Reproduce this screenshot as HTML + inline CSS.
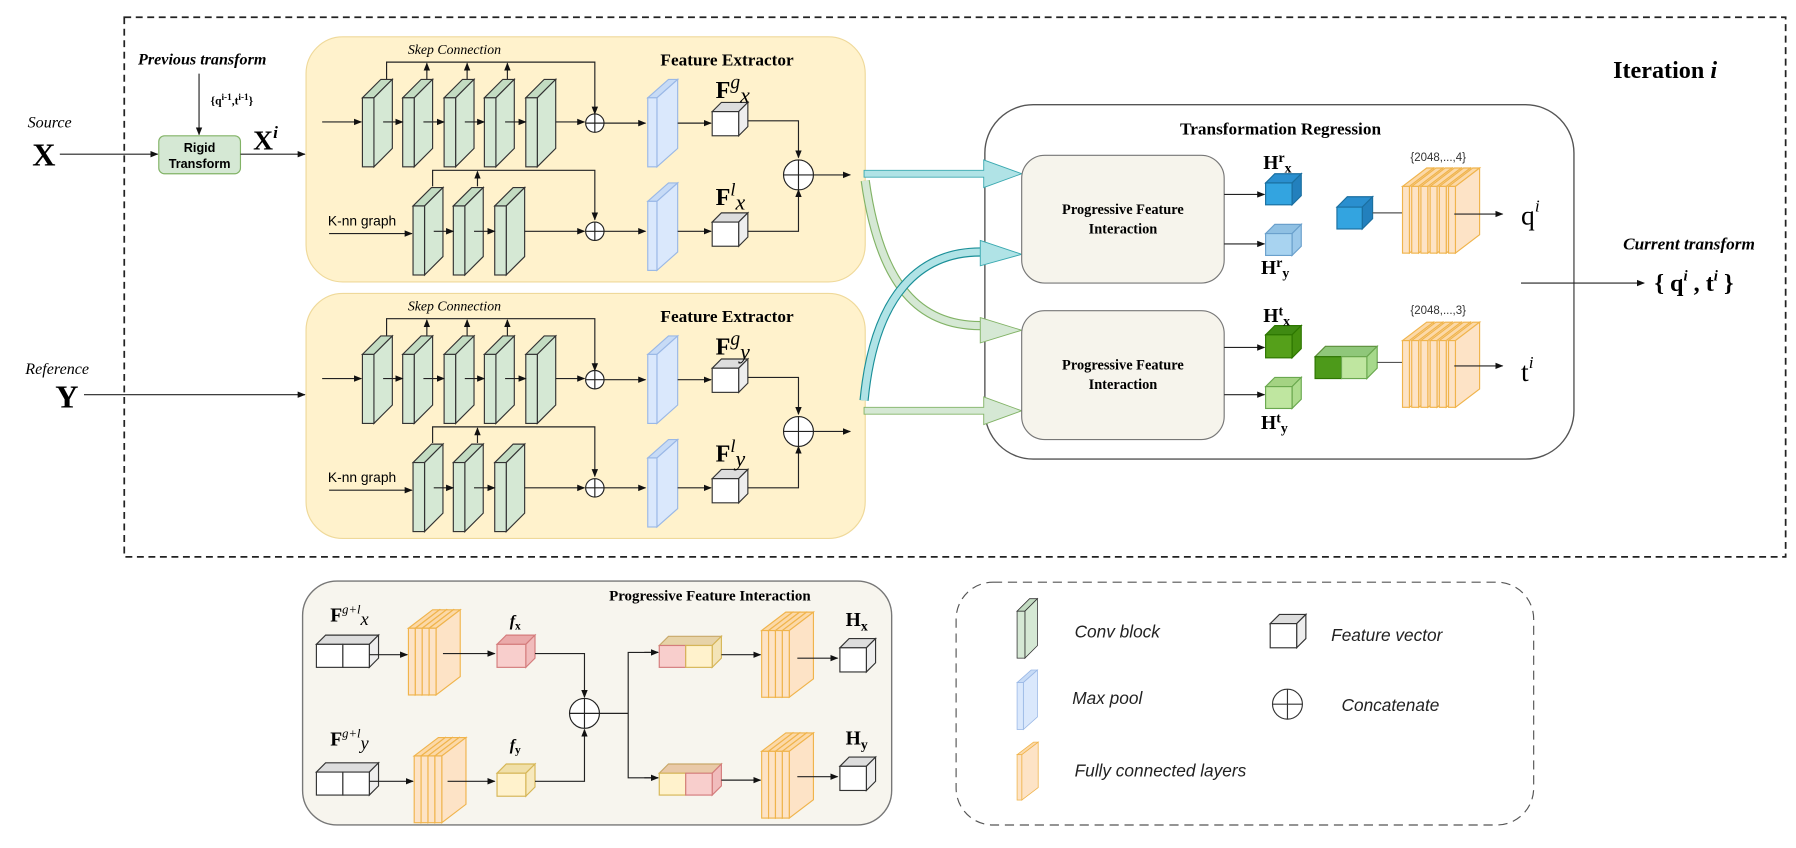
<!DOCTYPE html>
<html><head><meta charset="utf-8"><style>
html,body{margin:0;padding:0;background:#fff;}
svg{display:block;}
.s{font-family:"Liberation Serif",serif;}
.a{font-family:"Liberation Sans",sans-serif;}
</style></head><body>
<svg width="1796" height="848" viewBox="0 0 1561 737" preserveAspectRatio="none" xmlns="http://www.w3.org/2000/svg">
<defs>
<marker id="ar" viewBox="0 0 10 10" refX="9" refY="5" markerWidth="7" markerHeight="7" markerUnits="userSpaceOnUse" orient="auto"><path d="M0,1 L10,5 L0,9 z" fill="#111"/></marker>
<g id="conv"><polygon points="0,15 16,-1 26,-1 10,15" fill="#c3dcc2" stroke="#333" stroke-width="1"/><polygon points="10,15 26,-1 26,59 10,75" fill="#d5e8d4" stroke="#333" stroke-width="1"/><rect x="0" y="15" width="10" height="60" fill="#d5e8d4" stroke="#333" stroke-width="1"/></g>
<g id="pool"><polygon points="0,15 18,-1 26,-1 8,15" fill="#c7dbf6" stroke="#9ab8e6" stroke-width="1"/><polygon points="8,15 26,-1 26,59 8,75" fill="#dae8fc" stroke="#9ab8e6" stroke-width="1"/><rect x="0" y="15" width="8" height="60" fill="#dae8fc" stroke="#9ab8e6" stroke-width="1"/></g>
<g id="wc"><polygon points="0,8 8,0 31,0 23,8" fill="#ddd" stroke="#333"/><polygon points="23,8 31,0 31,21 23,29" fill="#eee" stroke="#333"/><rect x="0" y="8" width="23" height="21" fill="#fff" stroke="#333"/></g>
<g id="fcl"><polygon points="0,16 21,0 27,0 6,16" fill="#fcd9a8" stroke="#f0b44c"/><polygon points="6,16 27,0 27,58 6,74" fill="#fde3c6" stroke="#f0b44c"/><rect x="0" y="16" width="6" height="58" fill="#fde3c6" stroke="#f0b44c"/></g>
</defs>

<rect x="108" y="15" width="1444" height="469" fill="none" stroke="#222" stroke-width="1.5" stroke-dasharray="6,4"/>
<text x="1402" y="68" class="s" font-size="21" font-weight="bold">Iteration <tspan font-style="italic">i</tspan></text>

<text x="24" y="111" class="s" font-size="14" font-style="italic">Source</text>
<text x="28" y="144" class="s" font-size="28" font-weight="bold">X</text>
<line x1="52" y1="134" x2="137" y2="134" stroke="#222" marker-end="url(#ar)"/>
<text x="120" y="56" class="s" font-size="14" font-weight="bold" font-style="italic">Previous transform</text>
<line x1="173" y1="64" x2="173" y2="117" stroke="#222" marker-end="url(#ar)"/>
<text x="183" y="91" class="s" font-size="10" font-weight="bold">{q<tspan font-size="8" dy="-4">i-1</tspan><tspan dy="4">,t</tspan><tspan font-size="8" dy="-4">i-1</tspan><tspan dy="4">}</tspan></text>
<rect x="138" y="118" width="71" height="33" rx="5" fill="#d5e8d4" stroke="#82b366"/>
<text x="173.5" y="132" class="a" font-size="11" font-weight="bold" text-anchor="middle">Rigid</text>
<text x="173.5" y="146" class="a" font-size="11" font-weight="bold" text-anchor="middle">Transform</text>
<line x1="209" y1="134" x2="265" y2="134" stroke="#222" marker-end="url(#ar)"/>
<text x="220" y="130" class="s" font-size="24" font-weight="bold">X<tspan font-size="15" dy="-10" font-style="italic">i</tspan></text>

<text x="22" y="325" class="s" font-size="14" font-style="italic">Reference</text>
<text x="48" y="354" class="s" font-size="28" font-weight="bold">Y</text>
<line x1="73" y1="343" x2="265" y2="343" stroke="#222" marker-end="url(#ar)"/>

<g>
<rect x="266" y="32" width="486" height="213" rx="32" fill="#fff2cc" stroke="#efd99a"/>
<text x="395" y="47" class="s" font-size="12" font-style="italic" text-anchor="middle">Skep Connection</text>
<text x="574" y="57" class="s" font-size="15" font-weight="bold">Feature Extractor</text>
<path d="M336,70 V54 H517 V99" fill="none" stroke="#222" marker-end="url(#ar)"/>
<line x1="371" y1="70" x2="371" y2="55" stroke="#222" marker-end="url(#ar)"/>
<line x1="406" y1="70" x2="406" y2="55" stroke="#222" marker-end="url(#ar)"/>
<line x1="441" y1="70" x2="441" y2="55" stroke="#222" marker-end="url(#ar)"/>
<line x1="280" y1="106" x2="314" y2="106" stroke="#222" marker-end="url(#ar)"/>
<use href="#conv" x="315" y="70"/><use href="#conv" x="350" y="70"/><use href="#conv" x="386" y="70"/><use href="#conv" x="421" y="70"/><use href="#conv" x="457" y="70"/>
<line x1="333" y1="106" x2="350" y2="106" stroke="#222" marker-end="url(#ar)"/>
<line x1="368" y1="106" x2="386" y2="106" stroke="#222" marker-end="url(#ar)"/>
<line x1="404" y1="106" x2="421" y2="106" stroke="#222" marker-end="url(#ar)"/>
<line x1="439" y1="106" x2="457" y2="106" stroke="#222" marker-end="url(#ar)"/>
<line x1="483" y1="106" x2="508" y2="106" stroke="#222" marker-end="url(#ar)"/>
<circle cx="517" cy="107" r="8" fill="#fff" stroke="#222"/><path d="M509,107 H525 M517,99 V115" stroke="#222"/>
<line x1="525" y1="107" x2="561" y2="107" stroke="#222" marker-end="url(#ar)"/>
<use href="#pool" x="563" y="70"/>
<line x1="589" y1="107" x2="618" y2="107" stroke="#222" marker-end="url(#ar)"/>
<use href="#wc" x="619" y="89"/>
<text x="622" y="85" class="s" font-size="21" font-weight="bold">F<tspan font-weight="normal" font-style="italic" font-size="17" dy="-8">g</tspan><tspan font-weight="normal" font-style="italic" font-size="19" dy="12">x</tspan></text>
<path d="M650,105 H694 V137" fill="none" stroke="#222" marker-end="url(#ar)"/>
<path d="M376,162 V148 H517 V191" fill="none" stroke="#222" marker-end="url(#ar)"/>
<line x1="415" y1="162" x2="415" y2="149" stroke="#222" marker-end="url(#ar)"/>
<text x="285" y="196" class="a" font-size="12">K-nn graph</text>
<line x1="286" y1="203" x2="358" y2="203" stroke="#222" marker-end="url(#ar)"/>
<use href="#conv" x="359" y="164"/><use href="#conv" x="394" y="164"/><use href="#conv" x="430" y="164"/>
<line x1="377" y1="201" x2="394" y2="201" stroke="#222" marker-end="url(#ar)"/>
<line x1="412" y1="201" x2="430" y2="201" stroke="#222" marker-end="url(#ar)"/>
<line x1="456" y1="201" x2="508" y2="201" stroke="#222" marker-end="url(#ar)"/>
<circle cx="517" cy="201" r="8" fill="#fff" stroke="#222"/><path d="M509,201 H525 M517,193 V209" stroke="#222"/>
<line x1="525" y1="201" x2="561" y2="201" stroke="#222" marker-end="url(#ar)"/>
<use href="#pool" x="563" y="160"/>
<line x1="589" y1="201" x2="618" y2="201" stroke="#222" marker-end="url(#ar)"/>
<use href="#wc" x="619" y="185"/>
<text x="622" y="178" class="s" font-size="21" font-weight="bold">F<tspan font-weight="normal" font-style="italic" font-size="16" dy="-8">l</tspan><tspan font-weight="normal" font-style="italic" font-size="19" dy="12">x</tspan></text>
<path d="M650,201 H694 V165" fill="none" stroke="#222" marker-end="url(#ar)"/>
<circle cx="694" cy="152" r="13" fill="#fff" stroke="#222"/><path d="M681,152 H707 M694,139 V165" stroke="#222"/>
<line x1="707" y1="152" x2="739" y2="152" stroke="#222" marker-end="url(#ar)"/>
</g>
<g transform="translate(0,223)">
<rect x="266" y="32" width="486" height="213" rx="32" fill="#fff2cc" stroke="#efd99a"/>
<text x="395" y="47" class="s" font-size="12" font-style="italic" text-anchor="middle">Skep Connection</text>
<text x="574" y="57" class="s" font-size="15" font-weight="bold">Feature Extractor</text>
<path d="M336,70 V54 H517 V99" fill="none" stroke="#222" marker-end="url(#ar)"/>
<line x1="371" y1="70" x2="371" y2="55" stroke="#222" marker-end="url(#ar)"/>
<line x1="406" y1="70" x2="406" y2="55" stroke="#222" marker-end="url(#ar)"/>
<line x1="441" y1="70" x2="441" y2="55" stroke="#222" marker-end="url(#ar)"/>
<line x1="280" y1="106" x2="314" y2="106" stroke="#222" marker-end="url(#ar)"/>
<use href="#conv" x="315" y="70"/><use href="#conv" x="350" y="70"/><use href="#conv" x="386" y="70"/><use href="#conv" x="421" y="70"/><use href="#conv" x="457" y="70"/>
<line x1="333" y1="106" x2="350" y2="106" stroke="#222" marker-end="url(#ar)"/>
<line x1="368" y1="106" x2="386" y2="106" stroke="#222" marker-end="url(#ar)"/>
<line x1="404" y1="106" x2="421" y2="106" stroke="#222" marker-end="url(#ar)"/>
<line x1="439" y1="106" x2="457" y2="106" stroke="#222" marker-end="url(#ar)"/>
<line x1="483" y1="106" x2="508" y2="106" stroke="#222" marker-end="url(#ar)"/>
<circle cx="517" cy="107" r="8" fill="#fff" stroke="#222"/><path d="M509,107 H525 M517,99 V115" stroke="#222"/>
<line x1="525" y1="107" x2="561" y2="107" stroke="#222" marker-end="url(#ar)"/>
<use href="#pool" x="563" y="70"/>
<line x1="589" y1="107" x2="618" y2="107" stroke="#222" marker-end="url(#ar)"/>
<use href="#wc" x="619" y="89"/>
<text x="622" y="85" class="s" font-size="21" font-weight="bold">F<tspan font-weight="normal" font-style="italic" font-size="17" dy="-8">g</tspan><tspan font-weight="normal" font-style="italic" font-size="19" dy="12">y</tspan></text>
<path d="M650,105 H694 V137" fill="none" stroke="#222" marker-end="url(#ar)"/>
<path d="M376,162 V148 H517 V191" fill="none" stroke="#222" marker-end="url(#ar)"/>
<line x1="415" y1="162" x2="415" y2="149" stroke="#222" marker-end="url(#ar)"/>
<text x="285" y="196" class="a" font-size="12">K-nn graph</text>
<line x1="286" y1="203" x2="358" y2="203" stroke="#222" marker-end="url(#ar)"/>
<use href="#conv" x="359" y="164"/><use href="#conv" x="394" y="164"/><use href="#conv" x="430" y="164"/>
<line x1="377" y1="201" x2="394" y2="201" stroke="#222" marker-end="url(#ar)"/>
<line x1="412" y1="201" x2="430" y2="201" stroke="#222" marker-end="url(#ar)"/>
<line x1="456" y1="201" x2="508" y2="201" stroke="#222" marker-end="url(#ar)"/>
<circle cx="517" cy="201" r="8" fill="#fff" stroke="#222"/><path d="M509,201 H525 M517,193 V209" stroke="#222"/>
<line x1="525" y1="201" x2="561" y2="201" stroke="#222" marker-end="url(#ar)"/>
<use href="#pool" x="563" y="160"/>
<line x1="589" y1="201" x2="618" y2="201" stroke="#222" marker-end="url(#ar)"/>
<use href="#wc" x="619" y="185"/>
<text x="622" y="178" class="s" font-size="21" font-weight="bold">F<tspan font-weight="normal" font-style="italic" font-size="16" dy="-8">l</tspan><tspan font-weight="normal" font-style="italic" font-size="19" dy="12">y</tspan></text>
<path d="M650,201 H694 V165" fill="none" stroke="#222" marker-end="url(#ar)"/>
<circle cx="694" cy="152" r="13" fill="#fff" stroke="#222"/><path d="M681,152 H707 M694,139 V165" stroke="#222"/>
<line x1="707" y1="152" x2="739" y2="152" stroke="#222" marker-end="url(#ar)"/>
</g>

<rect x="856" y="91" width="512" height="308" rx="42" fill="#fff" stroke="#555" stroke-width="1.2"/>
<text x="1113" y="117" class="s" font-size="15" font-weight="bold" text-anchor="middle">Transformation Regression</text>

<path d="M751,148 H855 V139 L888,151 L855,163 V154 H751 Z" fill="#b0e3e6" stroke="#3aa9b0" stroke-width="0.8"/>
<path d="M752,157 C765,250 800,283 852,283" fill="none" stroke="#82b366" stroke-width="8"/>
<path d="M752,157 C765,250 800,283 852,283" fill="none" stroke="#d5e8d4" stroke-width="6"/>
<polygon points="852,276 888,287 852,298" fill="#d5e8d4" stroke="#82b366" stroke-width="0.8"/>
<path d="M751,348 C760,255 800,219 852,219" fill="none" stroke="#1a8f98" stroke-width="8"/>
<path d="M751,348 C760,255 800,219 852,219" fill="none" stroke="#b0e3e6" stroke-width="6"/>
<polygon points="852,209 888,221 852,231" fill="#b0e3e6" stroke="#3aa9b0" stroke-width="0.8"/>
<path d="M751,354 H855 V345 L888,357 L855,369 V360 H751 Z" fill="#d5e8d4" stroke="#82b366" stroke-width="0.8"/>

<rect x="888" y="135" width="176" height="111" rx="20" fill="#f6f4ec" stroke="#777"/>
<text x="976" y="186" class="s" font-size="12.5" font-weight="bold" text-anchor="middle">Progressive Feature</text>
<text x="976" y="203" class="s" font-size="12.5" font-weight="bold" text-anchor="middle">Interaction</text>
<rect x="888" y="270" width="176" height="112" rx="20" fill="#f6f4ec" stroke="#777"/>
<text x="976" y="321" class="s" font-size="12.5" font-weight="bold" text-anchor="middle">Progressive Feature</text>
<text x="976" y="338" class="s" font-size="12.5" font-weight="bold" text-anchor="middle">Interaction</text>

<line x1="1064" y1="169" x2="1099" y2="169" stroke="#222" marker-end="url(#ar)"/>
<line x1="1064" y1="212" x2="1099" y2="212" stroke="#222" marker-end="url(#ar)"/>
<line x1="1064" y1="302" x2="1099" y2="302" stroke="#222" marker-end="url(#ar)"/>
<line x1="1064" y1="343" x2="1099" y2="343" stroke="#222" marker-end="url(#ar)"/>
<g stroke="#1a6fa0"><polygon points="1100,159 1108,151 1131,151 1123,159" fill="#2a8fcf"/><polygon points="1123,159 1131,151 1131,170 1123,178" fill="#2380bd"/><rect x="1100" y="159" width="23" height="19" fill="#33a4e0"/></g>
<g stroke="#6aa0cc"><polygon points="1100,203 1108,195 1131,195 1123,203" fill="#8fc0e3"/><polygon points="1123,203 1131,195 1131,214 1123,222" fill="#9cc9ea"/><rect x="1100" y="203" width="23" height="19" fill="#a8d3f0"/></g>
<g stroke="#2d7600"><polygon points="1100,291 1108,283 1131,283 1123,291" fill="#3f8a12"/><polygon points="1123,291 1131,283 1131,303 1123,311" fill="#45900f"/><rect x="1100" y="291" width="23" height="20" fill="#55a01a"/></g>
<g stroke="#6aa84f"><polygon points="1100,336 1108,328 1131,328 1123,336" fill="#a4d383"/><polygon points="1123,336 1131,328 1131,347 1123,355" fill="#aedc8e"/><rect x="1100" y="336" width="23" height="19" fill="#bfe6a0"/></g>
<text x="1098" y="147" class="s" font-size="17" font-weight="bold">H<tspan font-size="12" dy="-6">r</tspan><tspan font-size="12" dy="9">x</tspan></text>
<text x="1096" y="238" class="s" font-size="17" font-weight="bold">H<tspan font-size="12" dy="-6">r</tspan><tspan font-size="12" dy="9">y</tspan></text>
<text x="1098" y="280" class="s" font-size="17" font-weight="bold">H<tspan font-size="12" dy="-6">t</tspan><tspan font-size="12" dy="9">x</tspan></text>
<text x="1096" y="373" class="s" font-size="17" font-weight="bold">H<tspan font-size="12" dy="-6">t</tspan><tspan font-size="12" dy="9">y</tspan></text>

<g stroke="#1a6fa0"><polygon points="1162,180 1171,171 1193,171 1184,180" fill="#2a8fcf"/><polygon points="1184,180 1193,171 1193,190 1184,199" fill="#2380bd"/><rect x="1162" y="180" width="22" height="19" fill="#33a4e0"/></g>
<line x1="1193" y1="185" x2="1219" y2="185" stroke="#555"/>
<g transform="translate(1219,146)"><use href="#fcl" x="0"/><use href="#fcl" x="8"/><use href="#fcl" x="16"/><use href="#fcl" x="24"/><use href="#fcl" x="32"/><use href="#fcl" x="40"/></g>
<text x="1250" y="140" class="a" font-size="10" text-anchor="middle" fill="#333">{2048,...,4}</text>
<line x1="1264" y1="186" x2="1306" y2="186" stroke="#222" marker-end="url(#ar)"/>
<text x="1322" y="195" class="s" font-size="24">q<tspan font-size="15" dy="-11" font-style="italic">i</tspan></text>

<g><polygon points="1143,310 1152,301 1197,301 1188,310" fill="#8fc77a" stroke="#5c8d3a"/><polygon points="1188,310 1197,301 1197,320 1188,329" fill="#a6d98b" stroke="#6aa84f"/><rect x="1143" y="310" width="23" height="19" fill="#4d9a1a" stroke="#2d7600"/><rect x="1166" y="310" width="22" height="19" fill="#bfe6a0" stroke="#6aa84f"/></g>
<line x1="1197" y1="315" x2="1219" y2="315" stroke="#555"/>
<g transform="translate(1219,280)"><use href="#fcl" x="0"/><use href="#fcl" x="8"/><use href="#fcl" x="16"/><use href="#fcl" x="24"/><use href="#fcl" x="32"/><use href="#fcl" x="40"/></g>
<text x="1250" y="273" class="a" font-size="10" text-anchor="middle" fill="#333">{2048,...,3}</text>
<line x1="1264" y1="318" x2="1306" y2="318" stroke="#222" marker-end="url(#ar)"/>
<text x="1322" y="331" class="s" font-size="24">t<tspan font-size="15" dy="-11" font-style="italic">i</tspan></text>

<line x1="1322" y1="246" x2="1429" y2="246" stroke="#222" marker-end="url(#ar)"/>
<text x="1468" y="217" class="s" font-size="15" font-weight="bold" font-style="italic" text-anchor="middle">Current transform</text>
<text x="1438" y="253" class="s" font-size="21" font-weight="bold">{ q<tspan font-size="13" dy="-9" font-style="italic">i</tspan><tspan dy="9"> , t</tspan><tspan font-size="13" dy="-9" font-style="italic">i</tspan><tspan dy="9"> }</tspan></text>

<rect x="263" y="505" width="512" height="212" rx="30" fill="#f7f5ee" stroke="#777" stroke-width="1.2"/>
<text x="617" y="522" class="s" font-size="13" font-weight="bold" text-anchor="middle">Progressive Feature Interaction</text>
<text x="287" y="540" class="s" font-size="17" font-weight="bold">F<tspan font-weight="normal" font-style="italic" font-size="11" dy="-7">g+l</tspan><tspan font-weight="normal" font-style="italic" font-size="16" dy="10">x</tspan></text>
<g stroke="#333"><polygon points="275,560 283,552 329,552 321,560" fill="#ddd"/><polygon points="321,560 329,552 329,572 321,580" fill="#eee"/><rect x="275" y="560" width="23" height="20" fill="#fff"/><rect x="298" y="560" width="23" height="20" fill="#fff"/></g>
<line x1="321" y1="569" x2="354" y2="569" stroke="#222" marker-end="url(#ar)"/>
<g transform="translate(355,530)"><use href="#fcl" x="0"/><use href="#fcl" x="6"/><use href="#fcl" x="12"/><use href="#fcl" x="18"/></g>
<line x1="385" y1="568" x2="430" y2="568" stroke="#222" marker-end="url(#ar)"/>
<g><polygon points="432,560 440,552 465,552 457,560" fill="#eaa9a9" stroke="#d47c7c"/><polygon points="457,560 465,552 465,572 457,580" fill="#f1bcbc" stroke="#d47c7c"/><rect x="432" y="560" width="25" height="20" fill="#f8cecc" stroke="#d47c7c"/></g>
<text x="443" y="544" class="s" font-size="14" font-weight="bold" font-style="italic">f<tspan font-size="10" font-style="normal" dy="3">x</tspan></text>
<path d="M465,568 H508 V606" fill="none" stroke="#222" marker-end="url(#ar)"/>
<circle cx="508" cy="620" r="13" fill="#fff" stroke="#222"/><path d="M495,620 H521 M508,607 V633" stroke="#222"/>

<text x="287" y="648" class="s" font-size="17" font-weight="bold">F<tspan font-weight="normal" font-style="italic" font-size="11" dy="-7">g+l</tspan><tspan font-weight="normal" font-style="italic" font-size="16" dy="10">y</tspan></text>
<g stroke="#333"><polygon points="275,671 283,663 329,663 321,671" fill="#ddd"/><polygon points="321,671 329,663 329,683 321,691" fill="#eee"/><rect x="275" y="671" width="23" height="20" fill="#fff"/><rect x="298" y="671" width="23" height="20" fill="#fff"/></g>
<line x1="321" y1="679" x2="359" y2="679" stroke="#222" marker-end="url(#ar)"/>
<g transform="translate(360,641)"><use href="#fcl" x="0"/><use href="#fcl" x="6"/><use href="#fcl" x="12"/><use href="#fcl" x="18"/></g>
<line x1="389" y1="679" x2="430" y2="679" stroke="#222" marker-end="url(#ar)"/>
<g><polygon points="432,672 440,664 465,664 457,672" fill="#f0dfa8" stroke="#d6b656"/><polygon points="457,672 465,664 465,684 457,692" fill="#f7e9bd" stroke="#d6b656"/><rect x="432" y="672" width="25" height="20" fill="#fff2cc" stroke="#d6b656"/></g>
<text x="443" y="652" class="s" font-size="14" font-weight="bold" font-style="italic">f<tspan font-size="10" font-style="normal" dy="3">y</tspan></text>
<path d="M465,679 H508 V634" fill="none" stroke="#222" marker-end="url(#ar)"/>

<path d="M521,620 H546 V567 H572 M546,620 V676 H572" fill="none" stroke="#222"/>
<line x1="560" y1="567" x2="572" y2="567" stroke="#222" marker-end="url(#ar)"/>
<line x1="560" y1="676" x2="572" y2="676" stroke="#222" marker-end="url(#ar)"/>
<g><polygon points="573,561 581,553 627,553 619,561" fill="#e7d3a8" stroke="#c9a96a"/><polygon points="619,561 627,553 627,572 619,580" fill="#f3e4b8" stroke="#d6b656"/><rect x="573" y="561" width="23" height="19" fill="#f8cecc" stroke="#d47c7c"/><rect x="596" y="561" width="23" height="19" fill="#fff2cc" stroke="#d6b656"/></g>
<g><polygon points="573,672 581,664 627,664 619,672" fill="#e9c9a8" stroke="#c9a96a"/><polygon points="619,672 627,664 627,683 619,691" fill="#f1bcbc" stroke="#d47c7c"/><rect x="573" y="672" width="23" height="19" fill="#fff2cc" stroke="#d6b656"/><rect x="596" y="672" width="23" height="19" fill="#f8cecc" stroke="#d47c7c"/></g>
<line x1="627" y1="569" x2="661" y2="569" stroke="#222" marker-end="url(#ar)"/>
<line x1="627" y1="678" x2="661" y2="678" stroke="#222" marker-end="url(#ar)"/>
<g transform="translate(662,532)"><use href="#fcl" x="0"/><use href="#fcl" x="6"/><use href="#fcl" x="12"/><use href="#fcl" x="18"/></g>
<g transform="translate(662,637)"><use href="#fcl" x="0"/><use href="#fcl" x="6"/><use href="#fcl" x="12"/><use href="#fcl" x="18"/></g>
<line x1="693" y1="572" x2="728" y2="572" stroke="#222" marker-end="url(#ar)"/>
<line x1="693" y1="675" x2="728" y2="675" stroke="#222" marker-end="url(#ar)"/>
<use href="#wc" x="730" y="555"/>
<use href="#wc" x="730" y="658"/>
<text x="735" y="544" class="s" font-size="17" font-weight="bold">H<tspan font-size="12" dy="4">x</tspan></text>
<text x="735" y="647" class="s" font-size="17" font-weight="bold">H<tspan font-size="12" dy="4">y</tspan></text>

<rect x="831" y="506" width="502" height="211" rx="32" fill="none" stroke="#555" stroke-dasharray="8,5"/>
<g transform="translate(884,521) scale(0.68)"><use href="#conv"/></g>
<text x="934" y="554" class="a" font-size="15" font-style="italic" fill="#222">Conv block</text>
<g transform="translate(884,583) scale(0.68)"><use href="#pool"/></g>
<text x="932" y="612" class="a" font-size="15" font-style="italic" fill="#222">Max pool</text>
<g transform="translate(884,645) scale(0.68)"><use href="#fcl"/></g>
<text x="934" y="675" class="a" font-size="15" font-style="italic" fill="#222">Fully connected layers</text>
<use href="#wc" x="1104" y="534"/>
<text x="1157" y="557" class="a" font-size="15" font-style="italic" fill="#222">Feature vector</text>
<circle cx="1119" cy="612" r="13" fill="#fff" stroke="#333"/><path d="M1106,612 H1132 M1119,599 V625" stroke="#333"/>
<text x="1166" y="618" class="a" font-size="15" font-style="italic" fill="#222">Concatenate</text>
</svg>
</body></html>
